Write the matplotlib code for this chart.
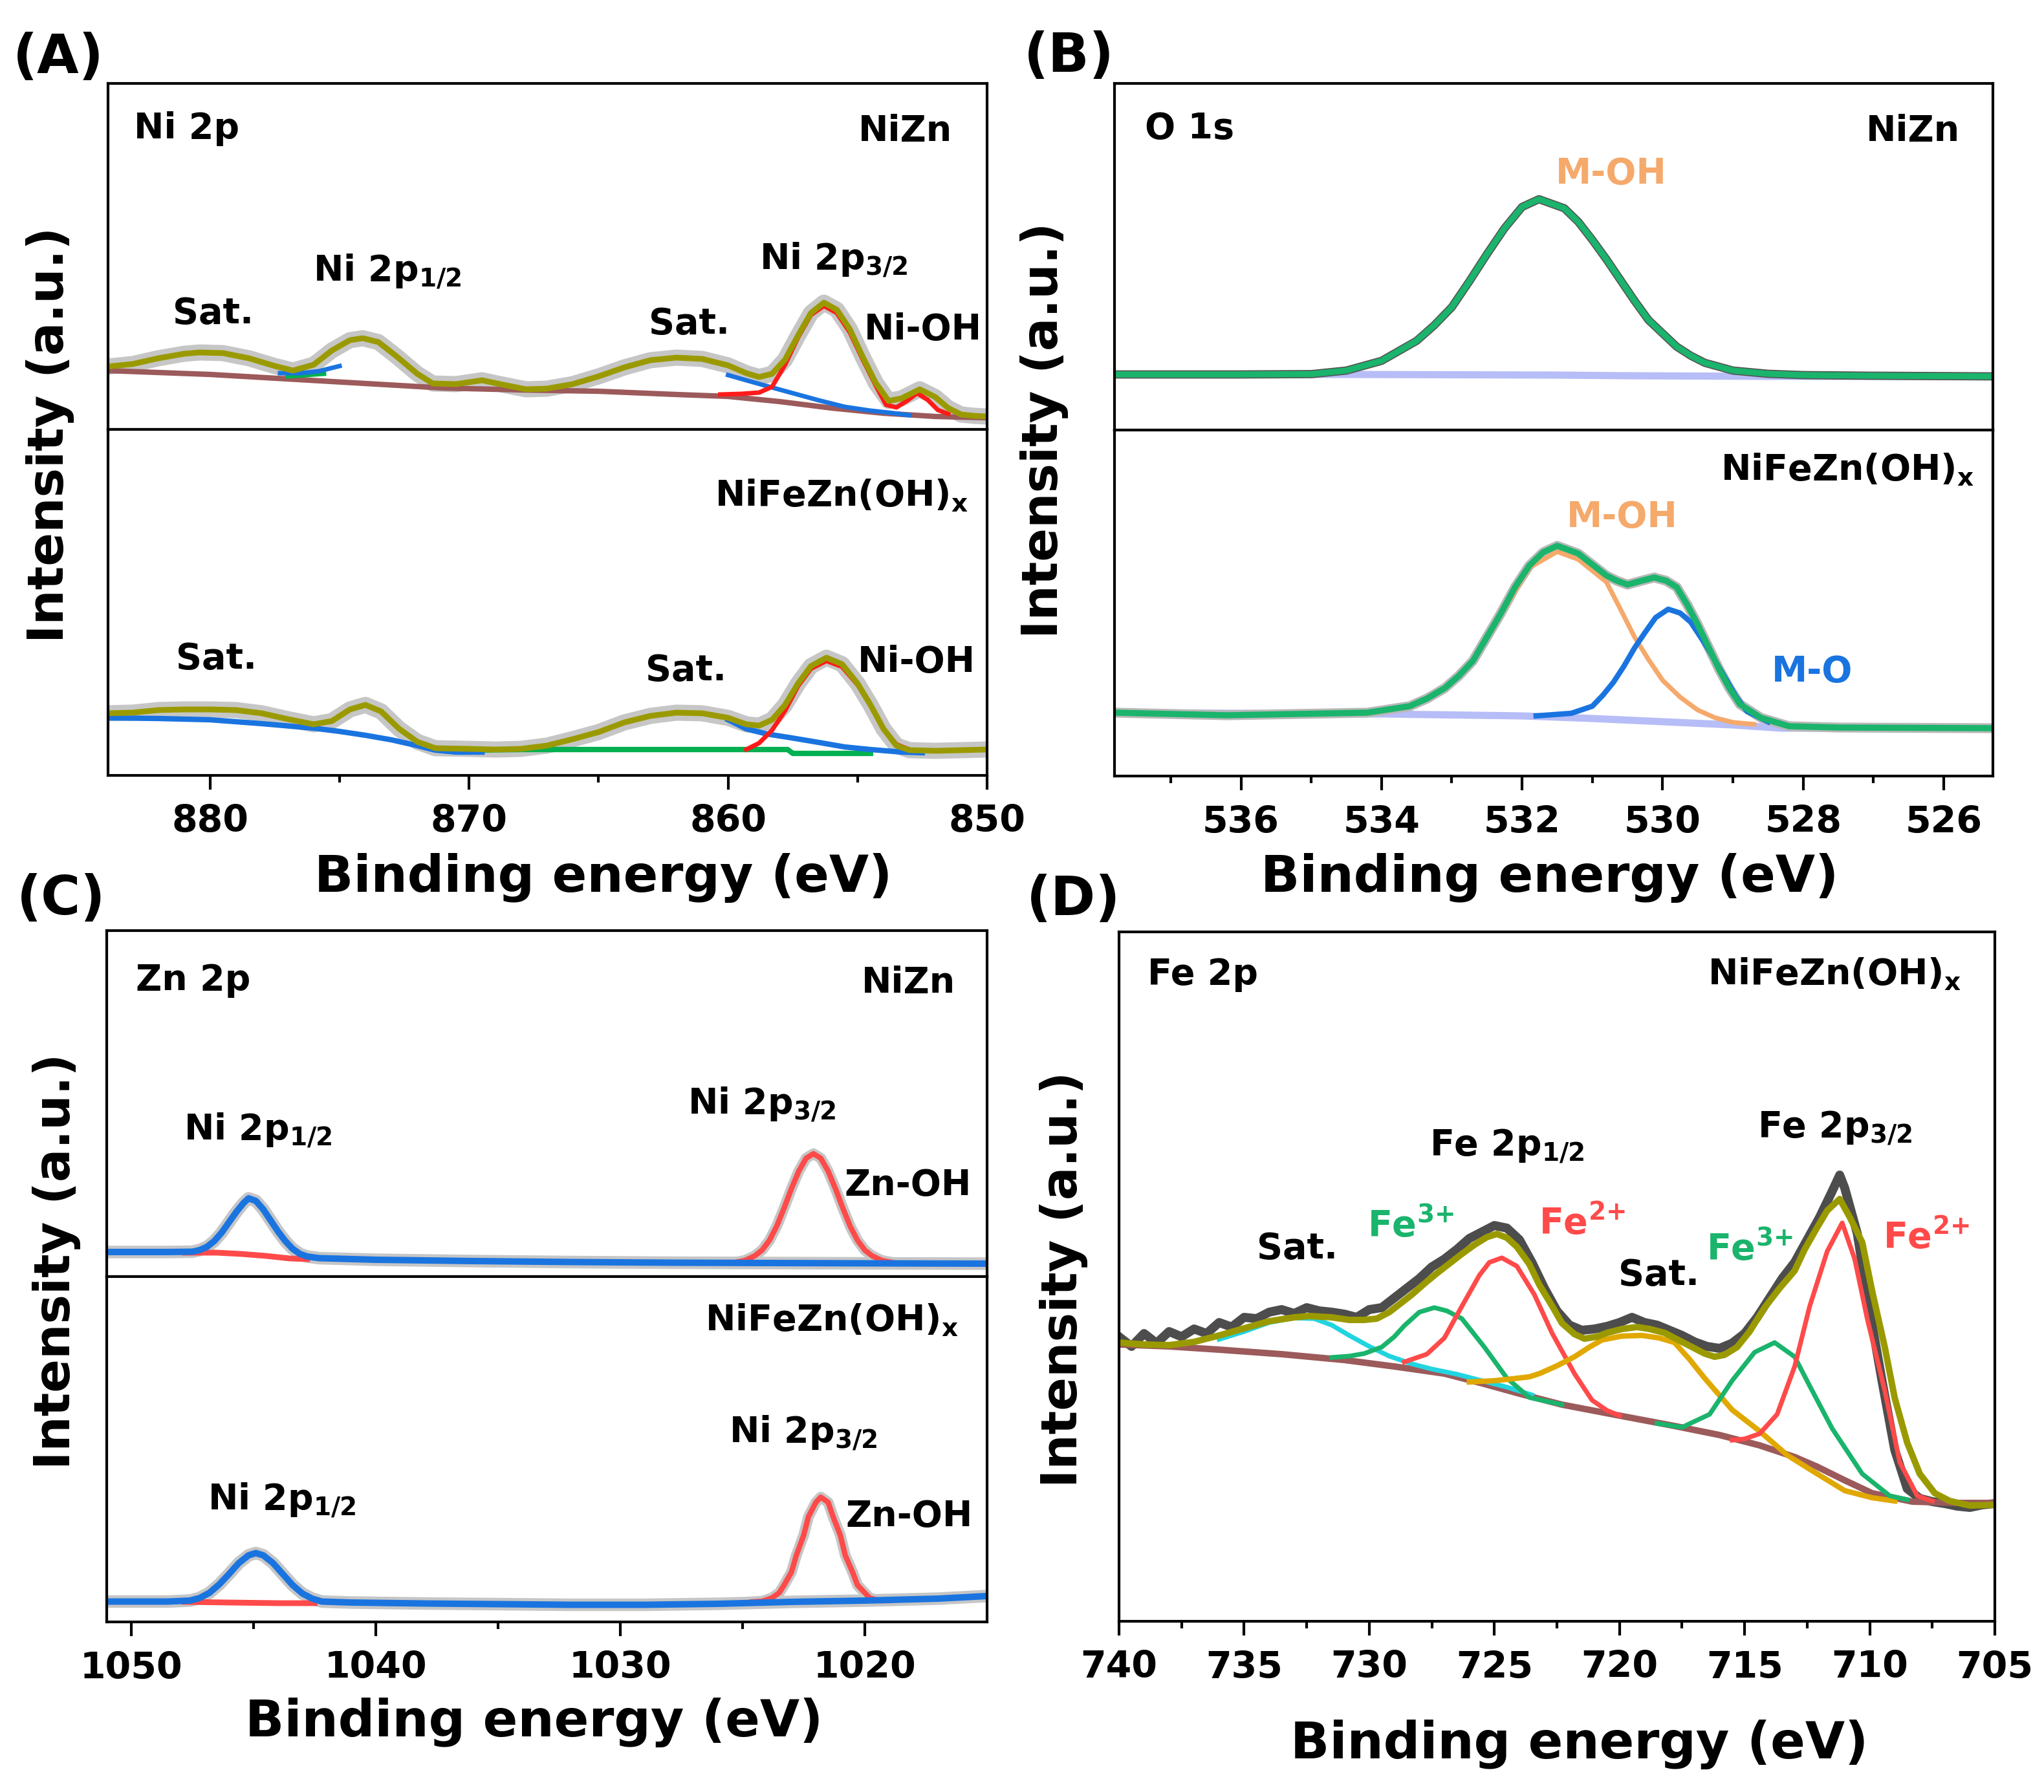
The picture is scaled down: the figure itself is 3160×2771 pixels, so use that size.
import matplotlib
matplotlib.use("Agg")
import matplotlib.pyplot as plt

# ---- data (binding energy in eV, intensity in a.u.) ----

# (A) Ni 2p, NiZn
a_top_env_e = [884.0, 883.0, 882.0, 881.0, 880.4, 879.5, 878.5, 877.5, 876.8, 876.0,
               875.3, 874.6, 874.1, 873.5, 872.8, 872.0, 871.4, 870.5, 869.5, 868.8,
               867.8, 867.0, 866.0, 865.0, 864.0, 863.0, 862.0, 861.0, 860.0, 859.3,
               858.8, 858.3, 857.8, 857.3, 856.8, 856.3, 855.8, 855.3, 854.8, 854.3,
               853.8, 853.3, 852.6, 852.0, 851.5, 851.0, 850.5, 850.0]
a_top_env_i = [97, 101, 110, 117, 119, 118, 110, 98, 91, 100,
               122, 138, 141, 135, 113, 86, 71, 70, 76, 70,
               62, 63, 70, 82, 96, 107, 111, 109, 99, 87,
               81, 86, 108, 145, 180, 196, 185, 155, 112, 72,
               44, 48, 62, 50, 33, 23, 21, 20]
a_top_base_e = [884, 880, 877, 874, 871, 868, 865, 862, 860, 858, 856, 854, 852, 850]
a_top_base_i = [91, 85, 78, 71, 64, 61, 59, 54, 51, 43, 33, 25, 20, 18]
a_top_blue1_e = [877.3, 876.5, 875.8, 875.0]
a_top_blue1_i = [87, 87, 90, 98]
a_top_green_e = [877.0, 876.3, 875.6]
a_top_green_i = [82, 84, 86]
a_top_blue2_e = [860.0, 859.3, 858.5, 857.5, 856.5, 855.5, 854.5, 853.8, 853.0]
a_top_blue2_i = [84, 76, 67, 56, 45, 35, 29, 26, 22]
a_top_red_e = [860.3, 859.5, 858.8, 858.3, 857.8, 857.3, 856.8, 856.3, 855.8, 855.3,
               854.8, 854.3, 853.9, 853.5, 853.1, 852.7, 852.3, 851.9, 851.5]
a_top_red_i = [54, 55, 57, 66, 100, 142, 177, 191, 180, 150,
               108, 68, 38, 34, 44, 56, 46, 30, 24]

# (A) Ni 2p, NiFeZn(OH)x
a_bot_env_e = [884, 883, 882, 881, 880, 879, 878, 877, 876,
               875.3, 874.6, 874.0, 873.4, 872.7, 872.0, 871.3,
               870, 869, 868, 867, 866, 865, 864, 863, 862, 861, 860,
               859.3, 858.8, 858.3, 857.8, 857.3, 856.8, 856.2, 855.6, 855.0, 854.5,
               854.0, 853.5, 853.0, 852, 851, 850]
a_bot_env_i = [96, 97, 101, 102, 102, 101, 96, 87, 79,
               84, 102, 109, 99, 72, 52, 42,
               41, 40, 41, 46, 56, 67, 82, 92, 97, 96, 89,
               79, 77, 86, 109, 142, 169, 182, 172, 142, 109,
               72, 46, 39, 38, 39, 40]
a_bot_blue1_e = [884, 882, 880, 878, 876, 875, 874, 873, 872, 871.3, 870.5, 869.5]
a_bot_blue1_i = [89, 88, 86, 80, 73, 68, 62, 55, 46, 39, 36, 36]
a_bot_blue2_e = [860.0, 859.3, 858.5, 857.7, 856.5, 855.5, 854.5, 853.3, 852.5]
a_bot_blue2_i = [86, 72, 64, 59, 51, 44, 40, 36, 35]
a_bot_green_e = [870.0, 868, 864, 860, 857.7, 857.5, 856, 854.5]
a_bot_green_i = [39, 40, 40, 40, 40, 34, 34, 34]
a_bot_red_e = [859.3, 858.8, 858.3, 857.8, 857.3, 856.8, 856.2, 855.6, 855.0, 854.5,
               854.0, 853.5, 853.0]
a_bot_red_i = [40, 50, 70, 100, 138, 165, 177, 168, 140, 108, 72, 48, 40]

# (B) O 1s, NiZn
b_top_env_e = [537.8, 536.0, 535.0, 534.5, 534.0, 533.5, 533.25, 533.0, 532.75, 532.5,
               532.25, 532.0, 531.76, 531.4, 531.2, 531.0, 530.8, 530.6, 530.4, 530.2,
               529.8, 529.6, 529.4, 529.0, 528.5, 528.0, 527.0, 525.3]
b_top_env_i = [86, 86, 86.5, 92, 107, 138, 162, 190, 230, 272,
               312, 345, 357, 343, 322, 294, 264, 232, 200, 170,
               129, 115, 104, 92, 87, 85, 84, 83]
b_top_base_e = [537.8, 534.5, 531.5, 530.5, 528.5, 525.3]
b_top_base_i = [86, 86, 85, 84, 83, 83]

# (B) O 1s, NiFeZn(OH)x
b_bot_env_e = [537.8, 536.2, 534.2, 533.6, 533.35, 533.1, 532.9, 532.7, 532.5, 532.3,
               532.1, 531.9, 531.7, 531.5, 531.2, 531.0, 530.8, 530.65, 530.5, 530.3,
               530.12, 529.95, 529.8, 529.65, 529.5, 529.35, 529.2, 529.05, 528.9, 528.6,
               528.2, 527.5, 525.3]
b_bot_env_i = [98, 94, 98, 108, 120, 136, 155, 178, 215, 252,
               292, 325, 346, 356, 344, 327, 310, 302, 296, 302,
               307, 302, 292, 265, 234, 200, 166, 136, 111, 90,
               77, 75, 74]
b_bot_moh_e = [534.2, 533.6, 533.1, 532.7, 532.3, 531.9, 531.5, 531.2, 530.8, 530.6,
               530.4, 530.2, 530.0, 529.75, 529.5, 529.25, 529.0, 528.7]
b_bot_moh_i = [97, 107, 135, 177, 250, 322, 347, 335, 300, 258,
               215, 180, 148, 122, 102, 90, 83, 80]
b_bot_mo_e = [531.8, 531.3, 531.0, 530.85, 530.7, 530.55, 530.4, 530.25, 530.1, 529.92,
              529.75, 529.6, 529.4, 529.25, 529.1, 528.95, 528.8, 528.5]
b_bot_mo_i = [93, 97, 108, 125, 145, 170, 198, 222, 245, 258,
              252, 238, 205, 178, 150, 122, 100, 84]
b_bot_base_e = [537.8, 534.0, 532.0, 531.0, 530.0, 529.0, 528.3, 525.3]
b_bot_base_i = [98, 96, 93, 89, 84, 79, 74, 74]

# (C) Zn 2p, NiZn
c_top_blue_e = [1051.0, 1048.5, 1047.5, 1047.2, 1046.9, 1046.6, 1046.3, 1046.0, 1045.7, 1045.4,
                1045.2, 1044.9, 1044.6, 1044.3, 1044.0, 1043.7, 1043.4, 1043.1, 1042.8, 1042.3,
                1040, 1036, 1032, 1028, 1024, 1020, 1015]
c_top_blue_i = [38, 38, 38.5, 41, 46, 55, 68, 84, 100, 114,
                121, 117, 104, 87, 70, 55, 43, 35, 31, 28.5,
                26, 24, 22.5, 21.5, 21, 20.5, 20]
c_top_redbase_e = [1047.8, 1046.5, 1045.5, 1044.5, 1043.5, 1042.8]
c_top_redbase_i = [37, 37, 35, 32, 28, 27]
c_top_red_e = [1025.3, 1024.9, 1024.5, 1024.2, 1023.9, 1023.6, 1023.3, 1023.0, 1022.7, 1022.4,
               1022.1, 1021.8, 1021.5, 1021.2, 1020.9, 1020.6, 1020.3, 1020.0, 1019.7, 1019.3,
               1018.9]
c_top_red_i = [22, 25, 32, 41, 56, 78, 106, 136, 163, 183,
               190, 183, 163, 136, 106, 78, 56, 41, 32, 25,
               22]

# (C) Zn 2p, NiFeZn(OH)x
c_bot_blue_e = [1051.0, 1048.5, 1047.6, 1047.2, 1046.8, 1046.4, 1046.0, 1045.6, 1045.2, 1044.9,
                1044.6, 1044.2, 1043.8, 1043.4, 1043.0, 1042.6, 1042.2, 1041, 1038, 1035,
                1032, 1029, 1026, 1023, 1020, 1017, 1015]
c_bot_blue_i = [31.5, 31.5, 33, 37, 45, 58, 74, 91, 103, 106.5,
                103, 91, 74, 57, 44, 36, 31.5, 30, 28.5, 27.5,
                26.5, 26.5, 28, 31, 33, 36, 40]
c_bot_redbase_e = [1047.8, 1046.0, 1044.0, 1042.5]
c_bot_redbase_i = [31, 30, 29, 29]
c_bot_red_e = [1024.6, 1024.2, 1023.8, 1023.5, 1023.3, 1023.0, 1022.8, 1022.5, 1022.3, 1022.0,
               1021.8, 1021.5, 1021.3, 1021.0, 1020.8, 1020.5, 1020.3, 1020.0, 1019.8, 1019.4,
               1019.0]
c_bot_red_i = [31, 32, 37, 45, 57, 77, 103, 134, 163, 185,
               193, 185, 163, 134, 103, 77, 57, 45, 37, 33,
               33]

# (D) Fe 2p, NiFeZn(OH)x
d_raw_e = [740, 739.5, 739, 738.5, 738, 737.5, 737, 736.5, 736, 735.5,
           735, 734.5, 734, 733.5, 733, 732.5, 732, 731.5, 731, 730.5,
           730, 729.5, 729, 728.5, 728, 727.5, 727, 726.5, 726, 725.5,
           725, 724.5, 724, 723.5, 723, 722.5, 722, 721.5, 721, 720.5,
           720, 719.5, 719, 718.5, 718, 717.5, 717, 716.5, 716, 715.5,
           715, 714.5, 714, 713.5, 713, 712.5, 712, 711.5, 711.2, 711,
           710.5, 710, 709.5, 709, 708.5, 708, 707.5, 707, 706.5, 706, 705.5, 705]
d_raw_i = [440, 425, 445, 430, 448, 440, 452, 445, 462, 455,
           470, 468, 478, 482, 476, 485, 480, 478, 475, 470,
           482, 485, 500, 515, 530, 548, 560, 575, 592, 602,
           612, 608, 590, 555, 515, 480, 458, 450, 452, 456,
           462, 470, 462, 458, 450, 442, 432, 425, 422, 430,
           445, 470, 500, 530, 555, 590, 625, 665, 690, 670,
           600, 480, 370, 265, 205, 190, 185, 182, 178, 176, 180, 182]
d_env_e = [740, 739, 738, 737, 736, 735, 734, 733, 732.4,
           731.5, 730.8, 730.2, 729.7, 729.2, 728.8, 728.3, 727.8, 727.3, 726.8,
           726.3, 725.8, 725.3, 724.9, 724.5, 724.1, 723.6, 723.2, 722.7, 722.3,
           721.8, 721.4, 720.9, 720.5, 719.9, 719.3, 718.8, 718.2, 717.7, 717.1,
           716.6, 716.2, 715.8, 715.3, 714.8, 714.2, 713.6, 713.0, 712.6, 712.1,
           711.7, 711.2, 710.8, 710.3, 709.9, 709.4, 709.0, 708.5, 708.0, 707.4,
           706.8, 706.0, 705]
d_env_i = [431, 428, 427, 432, 442, 453, 464, 470, 472,
           470, 466, 466, 468, 478, 490, 505, 522, 538, 553,
           568, 582, 594, 599, 593, 579, 552, 520, 488, 461,
           444, 437, 440, 446, 452, 455, 452, 446, 436, 424,
           414, 409, 412, 424, 448, 485, 515, 542, 575, 609,
           635, 653, 625, 586, 510, 424, 345, 276, 228, 198,
           186, 179, 180]
d_base_e = [740, 738, 736, 733.5, 731, 729, 727, 725.5, 724, 722.3, 720, 717.8, 716,
            714.4, 713, 712.1, 711, 709.9, 708.3, 706.5, 705]
d_base_i = [428, 425, 420, 413, 404, 394, 383, 368, 352, 335, 318, 302, 288,
            272, 254, 239, 218, 198, 185, 183, 183]
d_sat1_e = [736, 735, 734, 733, 732.2, 731.5, 730.8, 730, 729.2, 728.3, 727.5, 726.5,
            725.5, 724.5, 723.5]
d_sat1_i = [436, 448, 462, 469, 468, 458, 442, 425, 410, 398, 390, 382, 372, 362, 350]
d_fe3a_e = [731.5, 730.8, 730.2, 729.5, 729.0, 728.6, 728.0, 727.4, 726.9, 726.3,
            725.4, 724.5, 723.6, 722.3]
d_fe3a_i = [408, 410, 414, 424, 440, 457, 478, 485, 480, 468, 424, 376, 346, 335]
d_fe2a_e = [728.6, 727.7, 727.0, 726.3, 725.6, 725.2, 724.7, 724.1, 723.4, 722.7,
            721.8, 721.1, 720.5, 720.0]
d_fe2a_i = [401, 413, 438, 487, 535, 555, 562, 549, 505, 446, 383, 342, 326, 318]
d_sat2_e = [726, 725, 724.5, 723.6, 723.2, 722.5, 721.8, 721.2, 720.7, 719.9, 719.1,
            718.4, 717.8, 717.2, 716.6, 715.5, 714.4, 713.3, 712.1, 711.0, 709.9, 709.0]
d_sat2_i = [370, 372, 374, 378, 383, 395, 409, 424, 435, 441, 442,
            438, 431, 405, 376, 327, 294, 257, 228, 202, 191, 186]
d_fe3b_e = [718.5, 717.5, 716.4, 715.5, 714.6, 713.8, 713.0, 712.4, 711.5, 710.3,
            709.2, 708.5]
d_fe3b_i = [306, 300, 320, 372, 416, 431, 409, 364, 298, 228, 194, 188]
d_fe2b_e = [715.5, 715.0, 714.4, 713.7, 713.0, 712.4, 711.7, 711.1, 710.6, 710.1,
            709.4, 708.8, 708.1, 707.5]
d_fe2b_i = [280, 282, 290, 320, 394, 487, 572, 616, 560, 468, 357, 246, 194, 186]

# ---- style ----
plt.rcParams['font.family'] = ['DejaVu Sans']
plt.rcParams['font.weight'] = 'bold'
plt.rcParams['mathtext.fontset'] = 'dejavusans'
plt.rcParams['mathtext.default'] = 'bf'

W, H = 3160, 2771
OLIVE = '#9a9a00'
BROWN = '#9c5a5a'
BLUE = '#1a74e0'
GREEN = '#00b050'
RED = '#ff1a1a'
LRED = '#ff4a4a'
GREY = '#c6c6c6'
DGREY = '#555555'
ORANGE = '#f5a96b'
LAV = '#b7bdf7'
DGREEN = '#1ab46c'
GOLD = '#e0a800'
CYAN = '#22d4e0'


def fx(px):
    return px / W


def fy(py):
    return 1 - py / H


def rect(x0, x1, y0, y1):
    # pixel box of the reference -> figure fractions
    return [fx(x0), fy(y1), (x1 - x0) / W, (y1 - y0) / H]


def style(ax, xlim, ylim, major=None, minor=None):
    ax.set_xlim(xlim)
    ax.set_ylim(ylim)
    ax.set_yticks([])
    for s in ax.spines.values():
        s.set_linewidth(1.5)
    if major is None:
        ax.set_xticks([])
    else:
        ax.set_xticks(major)
        ax.set_xticks(minor, minor=True)
        ax.tick_params(axis='x', which='major', length=8, width=1.5,
                       labelsize=20.5, pad=8)
        ax.tick_params(axis='x', which='minor', length=4, width=1.5)


def note(x, y, s, ha='left', color='black', size=20):
    fig.text(fx(x), fy(y), s, ha=ha, va='baseline', color=color,
             fontsize=size, fontweight='bold')


fig = plt.figure(figsize=(15.8, 13.855), dpi=200)

# ---------------- (A) ----------------
axa1 = fig.add_axes(rect(167, 1526, 129, 664))
axa2 = fig.add_axes(rect(167, 1526, 664, 1199))
xa = (883.94, 850)
axa1.plot(a_top_env_e, a_top_env_i, color=GREY, lw=9, solid_capstyle='butt')
axa1.plot(a_top_base_e, a_top_base_i, color=BROWN, lw=3)
axa1.plot(a_top_green_e, a_top_green_i, color=GREEN, lw=2.5)
axa1.plot(a_top_blue1_e, a_top_blue1_i, color=BLUE, lw=2.5)
axa1.plot(a_top_blue2_e, a_top_blue2_i, color=BLUE, lw=2.5)
axa1.plot(a_top_red_e, a_top_red_i, color=RED, lw=2.5)
axa1.plot(a_top_env_e, a_top_env_i, color=OLIVE, lw=3.2)
style(axa1, xa, (0, 535))

axa2.plot(a_bot_env_e, a_bot_env_i, color=GREY, lw=9, solid_capstyle='butt')
axa2.plot(a_bot_green_e, a_bot_green_i, color=GREEN, lw=3)
axa2.plot(a_bot_blue1_e, a_bot_blue1_i, color=BLUE, lw=3)
axa2.plot(a_bot_blue2_e, a_bot_blue2_i, color=BLUE, lw=3)
axa2.plot(a_bot_red_e, a_bot_red_i, color=RED, lw=2.5)
axa2.plot(a_bot_env_e, a_bot_env_i, color=OLIVE, lw=3.2)
style(axa2, xa, (0, 535), [880, 870, 860, 850], [875, 865, 855])

note(207, 214, 'Ni 2p')
note(1472, 218, 'NiZn', ha='right')
note(267, 500, 'Sat.')
note(484, 434, r'Ni 2p$_{1/2}$')
note(1003, 516, 'Sat.')
note(1174, 416, r'Ni 2p$_{3/2}$')
note(1336, 525, 'Ni-OH')
note(1497, 782, r'NiFeZn(OH)$_{x}$', ha='right')
note(272, 1034, 'Sat.')
note(998, 1052, 'Sat.')
note(1326, 1039, 'Ni-OH')

# ---------------- (B) ----------------
axb1 = fig.add_axes(rect(1723, 3081, 129, 665))
axb2 = fig.add_axes(rect(1723, 3081, 665, 1200))
xb = (537.8, 525.3)
axb1.plot(b_top_base_e, b_top_base_i, color=LAV, lw=4)
axb1.plot(b_top_env_e, b_top_env_i, color=DGREY, lw=4.6)
axb1.plot(b_top_env_e, b_top_env_i, color=DGREEN, lw=3.4)
style(axb1, xb, (0, 536))

axb2.plot(b_bot_base_e, b_bot_base_i, color=LAV, lw=4)
axb2.plot(b_bot_env_e, b_bot_env_i, color='#b8b8b8', lw=5.5)
axb2.plot(b_bot_moh_e, b_bot_moh_i, color=ORANGE, lw=2.6)
axb2.plot(b_bot_mo_e, b_bot_mo_i, color=BLUE, lw=3)
axb2.plot(b_bot_env_e, b_bot_env_i, color=DGREEN, lw=3.4)
style(axb2, xb, (0, 535), [536, 534, 532, 530, 528, 526],
      [537, 535, 533, 531, 529, 527])

note(1770, 214, 'O 1s')
note(3030, 218, 'NiZn', ha='right')
note(2405, 284, 'M-OH', color=ORANGE)
note(3052, 742, r'NiFeZn(OH)$_{x}$', ha='right')
note(2422, 815, 'M-OH', color=ORANGE)
note(2739, 1054, 'M-O', color=BLUE)

# ---------------- (C) ----------------
axc1 = fig.add_axes(rect(165, 1526, 1439, 1974))
axc2 = fig.add_axes(rect(165, 1526, 1974, 2508))
xc = (1051.0, 1015.0)
for ax, be, bi, rbe, rbi, re, ri in [
        (axc1, c_top_blue_e, c_top_blue_i, c_top_redbase_e, c_top_redbase_i,
         c_top_red_e, c_top_red_i),
        (axc2, c_bot_blue_e, c_bot_blue_i, c_bot_redbase_e, c_bot_redbase_i,
         c_bot_red_e, c_bot_red_i)]:
    ax.plot(be, bi, color=GREY, lw=7)
    ax.plot(re, ri, color=GREY, lw=6)
    ax.plot(rbe, rbi, color=LRED, lw=3.2)
    ax.plot(re, ri, color=LRED, lw=3)
    ax.plot(be, bi, color=BLUE, lw=3.6)
style(axc1, xc, (0, 535))
style(axc2, xc, (0, 534), [1050, 1040, 1030, 1020], [1045, 1035, 1025])

note(210, 1531, 'Zn 2p')
note(1477, 1535, 'NiZn', ha='right')
note(284, 1761, r'Ni 2p$_{1/2}$')
note(1063, 1722, r'Ni 2p$_{3/2}$')
note(1305, 1848, 'Zn-OH')
note(1482, 2057, r'NiFeZn(OH)$_{x}$', ha='right')
note(1127, 2230, r'Ni 2p$_{3/2}$')
note(321, 2334, r'Ni 2p$_{1/2}$')
note(1308, 2360, 'Zn-OH')

# ---------------- (D) ----------------
axd = fig.add_axes(rect(1730, 3084, 1441, 2507))
axd.plot(d_raw_e, d_raw_i, color='#4d4d4d', lw=5)
axd.plot(d_base_e, d_base_i, color=BROWN, lw=3.6)
axd.plot(d_sat1_e, d_sat1_i, color=CYAN, lw=2.6)
axd.plot(d_fe3a_e, d_fe3a_i, color=DGREEN, lw=2.6)
axd.plot(d_fe2a_e, d_fe2a_i, color=LRED, lw=2.6)
axd.plot(d_sat2_e, d_sat2_i, color=GOLD, lw=3)
axd.plot(d_fe3b_e, d_fe3b_i, color=DGREEN, lw=2.6)
axd.plot(d_fe2b_e, d_fe2b_i, color=LRED, lw=2.6)
axd.plot(d_env_e, d_env_i, color=OLIVE, lw=3.6)
style(axd, (740, 705), (0, 1066), [740, 735, 730, 725, 720, 715, 710, 705],
      [737.5, 732.5, 727.5, 722.5, 717.5, 712.5, 707.5])

note(1774, 1522, 'Fe 2p')
note(3032, 1522, r'NiFeZn(OH)$_{x}$', ha='right')
note(2717, 1758, r'Fe 2p$_{3/2}$')
note(2210, 1785, r'Fe 2p$_{1/2}$')
note(1943, 1946, 'Sat.')
note(2114, 1912, r'Fe$^{3{+}}$', color=DGREEN)
note(2379, 1908, r'Fe$^{2{+}}$', color=LRED)
note(2502, 1987, 'Sat.')
note(2638, 1948, r'Fe$^{3{+}}$', color=DGREEN)
note(2911, 1930, r'Fe$^{2{+}}$', color=LRED)

# ---------------- axis titles and panel letters ----------------
for x, y in [(933, 1358), (2396, 1358), (826, 2664), (2442, 2698)]:
    fig.text(fx(x), fy(y), 'Binding energy (eV)', ha='center', va='center',
             fontsize=28.5, fontweight='bold')
for x, y in [(78, 672), (1615, 665), (88, 1950), (1644, 1978)]:
    fig.text(fx(x), fy(y), 'Intensity (a.u.)', ha='center', va='center',
             rotation=90, fontsize=27.5, fontweight='bold')
for x, y, s in [(90, 89, '(A)'), (1653, 88, '(B)'), (95, 1391, '(C)'),
                (1660, 1392, '(D)')]:
    fig.text(fx(x), fy(y), s, ha='center', va='center', fontsize=30,
             fontweight='bold')

fig.savefig('out.png', dpi=200)
